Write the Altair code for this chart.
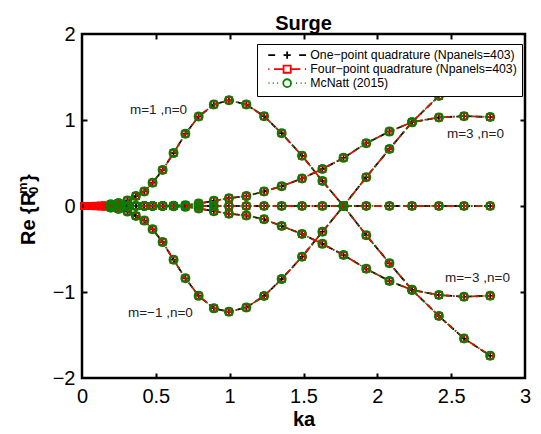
import altair as alt
import pandas as pd

# ---------------- data ----------------
ka_quad = [0.014, 0.043, 0.07, 0.097, 0.127, 0.155, 0.195, 0.247, 0.308, 0.365,
           0.422, 0.478, 0.546, 0.62, 0.70, 0.79, 0.893, 0.995, 1.113, 1.233,
           1.352, 1.49, 1.628, 1.771, 1.925, 2.082, 2.235, 2.417, 2.587, 2.764]
ka_mcnatt = [0.195, 0.247, 0.308, 0.365,
             0.422, 0.478, 0.546, 0.62, 0.70, 0.79, 0.893, 0.995, 1.113, 1.233,
             1.352, 1.49, 1.628, 1.771, 1.925, 2.082, 2.235, 2.417, 2.587, 2.764]

re_m1 = [0.0, 0.0, 0.001, 0.003, 0.006, 0.01, 0.02, 0.035, 0.065, 0.115,
         0.17, 0.27, 0.42, 0.615, 0.84, 1.04, 1.18, 1.23, 1.18, 1.045,
         0.845, 0.585, 0.29, 0.0, -0.34, -0.665, -0.975, -1.28, -1.54, -1.74]
re_mm1 = [0.0, 0.0, -0.001, -0.003, -0.006, -0.01, -0.02, -0.035, -0.065, -0.115,
          -0.17, -0.27, -0.42, -0.625, -0.84, -1.045, -1.19, -1.23, -1.18, -1.047,
          -0.85, -0.59, -0.3, 0.0, 0.335, 0.663, 0.975, 1.28, 1.54, 1.74]
re_m3 = [0.0, 0.0, 0.0, 0.0, 0.0, 0.0, 0.0, 0.0, 0.0, 0.0,
         0.0, 0.0, 0.0, 0.003, 0.01, 0.03, 0.06, 0.09, 0.115, 0.17,
         0.23, 0.32, 0.43, 0.56, 0.73, 0.865, 0.975, 1.03, 1.045, 1.035]
re_mm3 = [0.0, 0.0, 0.0, 0.0, 0.0, 0.0, 0.0, 0.0, 0.0, 0.0,
          0.0, 0.0, 0.0, -0.003, -0.01, -0.03, -0.06, -0.09, -0.11, -0.155,
          -0.233, -0.326, -0.44, -0.57, -0.73, -0.872, -0.977, -1.035, -1.055, -1.043]
re_m0 = [0.0, 0.0, 0.0, 0.0, 0.0, 0.0, 0.0, 0.0, 0.0, 0.0,
         0.0, 0.0, 0.0, 0.0, 0.0, 0.0, 0.0, 0.0, 0.0, 0.0,
         0.0, 0.0, 0.0, 0.0, 0.0, 0.0, 0.0, 0.0, 0.0, 0.0]

curve_names = ["m=1", "m=-1", "m=3", "m=-3", "m=0"]
methods = ["One\u2212point quadrature (Npanels=403)",
           "Four\u2212point quadrature (Npanels=403)",
           "McNatt (2015)"]
colors = ["#000000", "#ff0000", "#008000"]

ann_text = ["m=1 ,n=0", "m=\u22121 ,n=0", "m=3 ,n=0", "m=\u22123 ,n=0"]
ann_ka = [0.325, 0.311, 2.471, 2.458]
ann_re = [1.066, -1.294, 0.787, -0.88]

x_ticks = [0, 0.5, 1, 1.5, 2, 2.5, 3]
y_ticks = [-2, -1, 0, 1, 2]

# ---------------- build ----------------
F = "Liberation Sans"
W, H = 443, 344
xs = alt.Scale(domain=[0, 3], nice=False, zero=False)
ys = alt.Scale(domain=[-2, 2], nice=False, zero=False)

curve_vals = [re_m1, re_mm1, re_m3, re_mm3, re_m0]


def method_frame(kas):
    off = len(ka_quad) - len(kas)
    rows = []
    for cname, vals in zip(curve_names, curve_vals):
        for k, v in zip(kas, vals[off:]):
            rows.append({"curve": cname, "ka": k, "re": v})
    return pd.DataFrame(rows)


frames = [method_frame(ka_quad), method_frame(ka_quad), method_frame(ka_mcnatt)]

X1 = alt.Axis(orient="bottom", values=x_ticks, format="~g", ticks=False, tickSize=0,
              domain=False, grid=False, labelFont=F, labelFontSize=20, labelColor="black",
              labelPadding=8, labelFlush=False, labelOverlap=False, title="ka",
              titleFont=F, titleFontSize=20, titleFontWeight="bold", titleColor="black",
              titlePadding=3)
Y1 = alt.Axis(orient="left", values=y_ticks, format="~g", ticks=False, tickSize=0,
              domain=False, grid=False, labelFont=F, labelFontSize=20, labelColor="black",
              labelPadding=7, labelFlush=False, labelOverlap=False, title=None)
tick_kw = dict(labels=False, domain=False, grid=False, ticks=True, tickSize=5,
               tickWidth=2, tickColor="black", title=None)
X2 = alt.Axis(orient="top", offset=-H, values=x_ticks[1:-1], **tick_kw)
X3 = alt.Axis(orient="bottom", offset=-H, values=x_ticks[1:-1], **tick_kw)
Y2 = alt.Axis(orient="right", offset=-W, values=y_ticks[1:-1], **tick_kw)
Y3 = alt.Axis(orient="left", offset=-W, values=y_ticks[1:-1], **tick_kw)

line_styles = [dict(strokeDash=[6, 4], strokeWidth=1.8),
               dict(strokeDash=[7, 3, 1.5, 3], strokeWidth=1.8),
               dict(strokeDash=[1.5, 3], strokeWidth=1.5)]
point_styles = [dict(shape="M-1,0H1M0,-1V1", size=49, strokeWidth=1.5),
                dict(shape="square", size=36, strokeWidth=2),
                dict(shape="circle", size=64, strokeWidth=2)]

layers = []
for i in range(3):
    base = alt.Chart(frames[i])
    ln = base.mark_line(color=colors[i], **line_styles[i]).encode(
        x=alt.X("ka:Q", scale=xs, axis=X1 if i == 0 else None),
        y=alt.Y("re:Q", scale=ys, axis=Y1 if i == 0 else None),
        detail="curve:N",
    )
    pt = base.mark_point(filled=False, color=colors[i], opacity=1, **point_styles[i]).encode(
        x=alt.X("ka:Q", scale=xs, axis=None),
        y=alt.Y("re:Q", scale=ys, axis=None),
    )
    layers += [ln, pt]

ann = pd.DataFrame({"ka": ann_ka, "re": ann_re, "label": ann_text})
ann_style = dict(align="left", baseline="alphabetic", font=F, fontSize=13.5, color="#222222")
layers.append(alt.Chart(ann.iloc[:2]).mark_text(**ann_style).encode(
    x=alt.X("ka:Q", scale=xs, axis=X2), y=alt.Y("re:Q", scale=ys, axis=Y2), text="label:N"))
layers.append(alt.Chart(ann.iloc[2:]).mark_text(**ann_style).encode(
    x=alt.X("ka:Q", scale=xs, axis=X3), y=alt.Y("re:Q", scale=ys, axis=Y3), text="label:N"))

# y-axis title: Re {R_0^m}
ytitle_parts = [("Re {R", 20, -47, 211), ("m", 13, -55, 160), ("0", 13, -44, 160), ("}", 20, -47, 148)]
for txt, fs, px, py in ytitle_parts:
    layers.append(alt.Chart(pd.DataFrame({"t": [txt]})).mark_text(
        angle=270, align="left", baseline="alphabetic", font=F, fontSize=fs,
        fontWeight="bold", color="black").encode(
        x=alt.value(px), y=alt.value(py), text="t:N"))

# legend (built from scales only)
legend_paths = [
    "M-6.3,0H-4M-1.2,0H1.2M0,-1.2V1.2M4,0H6.3",
    "M-6.3,0H-5.9M-4.4,0H-1.2M-1.2,-1.2H1.2V1.2H-1.2ZM1.2,0H4.4M5.9,0H6.3",
    "M-6.2,0H-5.9M-4.8,0H-4.5M-3.3,0H-3M-1.3,0A1.3,1.3,0,1,0,1.3,0A1.3,1.3,0,1,0,-1.3,0M3,0H3.3M4.5,0H4.8M5.9,0H6.2",
]
LEG = alt.Legend(title=None, orient="none", legendX=175, legendY=10, fillColor="white",
                 strokeColor="black", padding=5, labelFont=F, labelFontSize=12.3,
                 labelColor="black", labelLimit=0, symbolSize=36, symbolStrokeWidth=1.8,
                 symbolOffset=19, labelOffset=17, rowPadding=-4, cornerRadius=0)
layers.append(alt.Chart(pd.DataFrame({"method": methods})).transform_filter("false").mark_point(
    filled=False, size=36, strokeWidth=1.8, opacity=1).encode(
    color=alt.Color("method:N", scale=alt.Scale(domain=methods, range=colors), legend=LEG),
    shape=alt.Shape("method:N", scale=alt.Scale(domain=methods, range=legend_paths), legend=LEG),
))

chart = alt.layer(*layers).resolve_axis(x="independent", y="independent").properties(
    width=W, height=H,
    padding={"left": 82, "top": 34, "right": 16, "bottom": 56},
    autosize=alt.AutoSizeParams(type="none"),
    title=alt.TitleParams("Surge", font=F, fontSize=20, fontWeight="bold", color="black",
                          anchor="middle", offset=-10),
).configure_view(stroke="black", strokeWidth=2.5)

chart.save("out.html", embed_options={"renderer": "svg", "actions": False})
